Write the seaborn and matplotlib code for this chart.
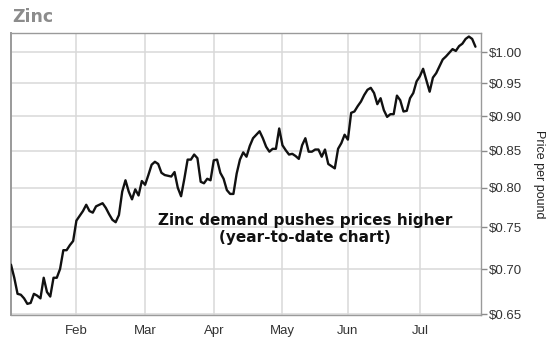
import numpy as np
import pandas as pd
import matplotlib
matplotlib.use("Agg")
import matplotlib.pyplot as plt
import matplotlib.ticker as mticker
import seaborn as sns

# Zinc cash price, US$ per pound, one value per LME trading day of 2016
prices = [
    0.705, 0.690, 0.672, 0.671, 0.667, 0.661, 0.662, 0.672, 0.670, 0.667,
    0.690, 0.674, 0.669, 0.690, 0.690, 0.700, 0.722, 0.722, 0.728, 0.733,
    0.758, 0.764, 0.770, 0.778, 0.770, 0.768, 0.776, 0.778, 0.780, 0.774,
    0.766, 0.759, 0.756, 0.765, 0.795, 0.810, 0.795, 0.785, 0.798, 0.790,
    0.809, 0.804, 0.817, 0.831, 0.835, 0.832, 0.820, 0.817, 0.816, 0.815,
    0.821, 0.800, 0.789, 0.812, 0.838, 0.838, 0.845, 0.840, 0.808, 0.806,
    0.812, 0.810, 0.837, 0.838, 0.820, 0.812, 0.797, 0.792, 0.792, 0.819,
    0.838, 0.848, 0.842, 0.857, 0.868, 0.873, 0.878, 0.868, 0.856, 0.849,
    0.853, 0.853, 0.882, 0.858, 0.851, 0.845, 0.846, 0.843, 0.839, 0.858,
    0.868, 0.849, 0.849, 0.852, 0.852, 0.842, 0.852, 0.832, 0.829, 0.826,
    0.853, 0.861, 0.873, 0.866, 0.905, 0.907, 0.915, 0.922, 0.932, 0.940,
    0.943, 0.935, 0.918, 0.927, 0.909, 0.899, 0.903, 0.903, 0.931, 0.924,
    0.907, 0.908, 0.927, 0.935, 0.953, 0.961, 0.973, 0.955, 0.937, 0.959,
    0.966, 0.977, 0.988, 0.993, 0.999, 1.005, 1.002, 1.010, 1.014, 1.022,
    1.026, 1.022, 1.009,
]

# London exchange closures (UK bank holidays) within the period
holidays = ["2016-03-25", "2016-03-28", "2016-05-02", "2016-05-30"]
start_date = "2016-01-04"

price_ticks = [0.65, 0.70, 0.75, 0.80, 0.85, 0.90, 0.95, 1.00]
price_labels = ["$0.65", "$0.70", "$0.75", "$0.80", "$0.85", "$0.90", "$0.95", "$1.00"]

title_text = "Zinc"
note_text = "Zinc demand pushes prices higher\n(year-to-date chart)"
axis_label = "Price per pound"

# Trading calendar and month boundaries on a trading-day axis
bdays = pd.bdate_range(start_date, periods=len(prices) + 10)
bdays = bdays[~bdays.isin(pd.to_datetime(holidays))][: len(prices)]
df = pd.DataFrame({"day": np.arange(len(prices)), "date": bdays, "price": prices})
month_start = df["date"].dt.month.ne(df["date"].dt.month.shift())
month_rows = df[month_start & (df.index > 0)]
month_pos = month_rows["day"].tolist()
month_names = month_rows["date"].dt.strftime("%b").tolist()

sns.set_style("white")
plt.rcParams["font.family"] = ["Liberation Sans", "DejaVu Sans"]

fig = plt.figure(figsize=(5.51, 3.40), dpi=100)
ax = fig.add_axes([11 / 551, 1 - 315 / 340, 470 / 551, 282 / 340])

sns.lineplot(data=df, x="day", y="price", ax=ax, color="#111111",
             linewidth=1.7, zorder=3)

ax.set_yscale("log")
ax.set_ylim(0.649, 1.032)
ax.set_xlim(0, len(prices) + 0.7)

ax.yaxis.tick_right()
ax.set_yticks(price_ticks)
ax.set_yticklabels(price_labels)
ax.yaxis.set_minor_locator(mticker.NullLocator())
ax.set_xticks(month_pos)
ax.set_xticklabels(month_names)

ax.grid(True, color="#d8d8d8", linewidth=1.1, zorder=0)
for side in ["top", "bottom", "left", "right"]:
    ax.spines[side].set_color("#9a9a9a")
    ax.spines[side].set_linewidth(1.0)
ax.spines["left"].set_linewidth(1.4)

ax.tick_params(axis="both", which="major", direction="out", length=4,
               width=1, color="#8a8a8a", labelsize=9.5, labelcolor="#333333", pad=2)
ax.tick_params(axis="x", pad=3)

ax.set_xlabel("")
ax.yaxis.set_label_position("right")
ax.set_ylabel(axis_label, rotation=270, fontsize=9, color="#222222", labelpad=16)

ax.text(0.625, 0.305, note_text, transform=ax.transAxes, ha="center", va="center",
        fontsize=11, fontweight="bold", family="DejaVu Sans", color="#111111",
        linespacing=1.15, zorder=4)

fig.text(12 / 551, 1 - 17 / 340, title_text, ha="left", va="center",
         fontsize=12.5, fontweight="bold", family="DejaVu Sans", color="#8c8c8c")

fig.savefig("out.png", dpi=100, facecolor="white")
